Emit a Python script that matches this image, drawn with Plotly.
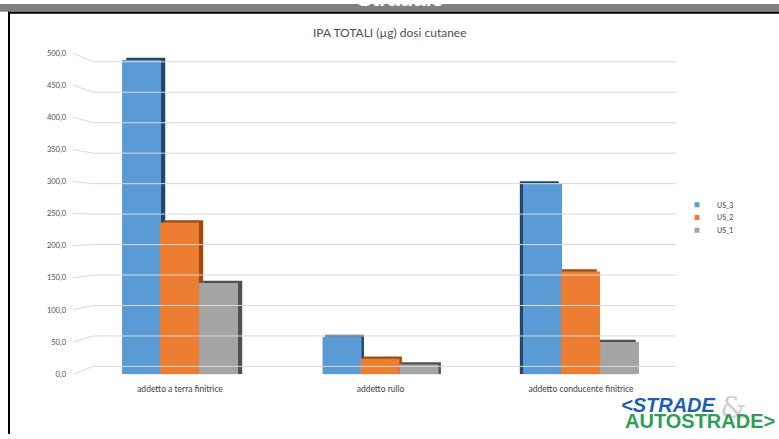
import plotly.graph_objects as go

# ---- data ----
categories = ["addetto a terra finitrice", "addetto rullo", "addetto conducente finitrice"]
series_names = ["US_3", "US_2", "US_1"]
us_3 = [489, 58, 297]
us_2 = [236, 24, 160]
us_1 = [142, 15, 50]
y_ticks = [0, 50, 100, 150, 200, 250, 300, 350, 400, 450, 500]

# ---- page geometry (pixels) ----
W, H = 779, 439
X_PX0, X_PX1 = 70, 690          # plot area, horizontal
Y_TOP, Y_BOT = 50, 378          # front plane: 500 -> top, 0 -> bottom
CAT0_PX, CAT_STEP = 180, 200.5  # centre of first category, distance between categories

def fx(p):
    return p / W

def fy(p):
    return 1 - p / H

def xu(p):
    """pixel column -> x axis units"""
    return (p - CAT0_PX) / CAT_STEP

front_px_per_unit = (Y_BOT - Y_TOP) / 500.0

def wall(v):
    """value on the back wall of the 3D box, expressed in front-plane units"""
    pix = 370 - v * 311 / 500.0
    return (Y_BOT - pix) / front_px_per_unit

# gridlines: short perspective stroke from the label, then along the back wall
gx, gy = [], []
for v in y_ticks:
    gx += [xu(73), xu(93), xu(676), None]
    gy += [v, wall(v), wall(v), None]

fig = go.Figure()
fig.add_trace(go.Scatter(x=gx, y=gy, mode="lines", line=dict(color="#d9d9d9", width=1),
                         hoverinfo="skip", showlegend=False))

values = [us_3, us_2, us_1]
fronts = ["#5B9BD5", "#ED7D31", "#A5A5A5"]
sides = ["#22476E", "#A04A10", "#505050"]
offsets = [-0.289, -0.0998, 0.0948]
bar_w = 0.1945
side_shift = [0.021, 0.012, -0.016]   # per category: visible side face
lift = 3.5                            # top face thickness
xs = list(range(len(categories)))
legend_ids = ["legend", "legend2", "legend3"]
legend_rows = [205, 218, 231]

# side / top faces first
for vals, side, off in zip(values, sides, offsets):
    fig.add_trace(go.Bar(
        x=xs, y=[v + lift for v in vals], width=bar_w,
        offset=[off + s for s in side_shift],
        marker=dict(color=side, line=dict(width=0)),
        hoverinfo="skip", showlegend=False))

# front faces
for vals, col, off, name, lg in zip(values, fronts, offsets, series_names, legend_ids):
    fig.add_trace(go.Bar(
        x=xs, y=vals, width=bar_w, offset=off, name=name, legendgroup=name,
        showlegend=False, marker=dict(color=col, line=dict(width=0))))
    # small square key for the legend
    fig.add_trace(go.Scatter(
        x=[None], y=[None], mode="markers", name=name, legendgroup=name, legend=lg,
        marker=dict(symbol="square", size=5, color=col)))

legend_style = dict(xanchor="left", yanchor="middle", font=dict(size=7, color="#404040"),
                    bgcolor="rgba(0,0,0,0)", itemwidth=30, borderwidth=0)

fig.update_layout(
    width=W, height=H,
    margin=dict(l=0, r=0, t=0, b=0),
    paper_bgcolor="white", plot_bgcolor="rgba(0,0,0,0)",
    barmode="overlay",
    separators=",.",
    font=dict(family="Lato, Open Sans, sans-serif", color="#404040"),
    showlegend=True,
    xaxis=dict(domain=[fx(X_PX0), fx(X_PX1)],
               range=[xu(X_PX0), xu(X_PX1)],
               tickvals=xs, ticktext=categories,
               showgrid=False, zeroline=False, showline=False, ticks="",
               tickfont=dict(size=8.5, color="#404040"), ticklabelstandoff=8),
    yaxis=dict(domain=[fy(Y_BOT), fy(Y_TOP)], range=[0, 500],
               tickvals=y_ticks, tickformat=".1f",
               showgrid=False, zeroline=False, showline=False, ticks="",
               tickfont=dict(size=7.5, color="#505050"), ticklabelstandoff=3),
)
for lg, row in zip(legend_ids, legend_rows):
    fig.update_layout({lg: dict(x=fx(677), y=fy(row), **legend_style)})

# slide frame: grey banner, black rules
fig.add_shape(type="rect", xref="paper", yref="paper", x0=0, x1=1, y0=fy(8), y1=1,
              fillcolor="#808080", line=dict(width=0))
fig.add_shape(type="rect", xref="paper", yref="paper", x0=fx(8), x1=1, y0=fy(10), y1=fy(8),
              fillcolor="black", line=dict(width=0))
fig.add_shape(type="rect", xref="paper", yref="paper", x0=fx(8), x1=fx(10), y0=0, y1=fy(8),
              fillcolor="black", line=dict(width=0))

fig.add_annotation(text="<b>Stradale</b>", xref="paper", yref="paper", x=fx(400), y=fy(-6),
                   xanchor="center", yanchor="middle", showarrow=False,
                   font=dict(size=22, color="white", family="Liberation Sans"))

fig.add_annotation(text="IPA TOTALI (µg) dosi cutanee", xref="paper", yref="paper",
                   x=fx(390), y=fy(29), xanchor="center", yanchor="middle", showarrow=False,
                   font=dict(size=12, color="#505050", family="Lato"))

# logo
fig.add_annotation(text="&", xref="paper", yref="paper", x=fx(733), y=fy(412),
                   xanchor="center", yanchor="middle", showarrow=False,
                   font=dict(size=30, color="#cfcfcf", family="DejaVu Serif"))
fig.add_annotation(text="<b><i>&lt;STRADE</i></b>", xref="paper", yref="paper", x=fx(619), y=fy(409),
                   xanchor="left", yanchor="middle", showarrow=False,
                   font=dict(size=20, color="#1d5fae", family="Liberation Sans"))
fig.add_annotation(text="<b>AUTOSTRADE&gt;</b>", xref="paper", yref="paper", x=fx(623), y=fy(426),
                   xanchor="left", yanchor="middle", showarrow=False,
                   font=dict(size=20, color="#2f9e55", family="Liberation Sans"))

fig.write_html("out.html")
